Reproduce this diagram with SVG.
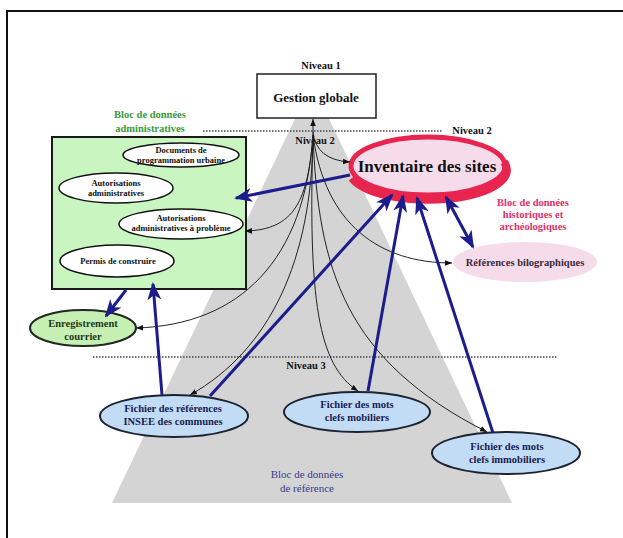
<svg xmlns="http://www.w3.org/2000/svg" width="623" height="538" viewBox="0 0 623 538">
<defs>
<style>
.t{font-family:"Liberation Serif","Times New Roman",serif;font-weight:bold;text-anchor:middle}
.lvl{font-size:10.5px;fill:#111}
.sm{font-size:8.5px;fill:#111}
.fb{font-size:10.5px;fill:#1a2050}
.wl{fill:#fff;stroke:#111;stroke-width:1.5}
.bl{fill:#c2dcf6;stroke:#1e2330;stroke-width:2}
.dot{stroke:#444;stroke-width:1.5;stroke-dasharray:1.5 1.5;fill:none}
.k{fill:none;stroke:#222;stroke-width:1;marker-end:url(#bk)}
.b{fill:none;stroke:#1c1c8c;stroke-width:3;marker-end:url(#bb)}
</style>
<marker id="bk" viewBox="0 0 10 10" refX="10" refY="5" markerWidth="7" markerHeight="7" markerUnits="userSpaceOnUse" orient="auto-start-reverse"><path d="M0,1 L10,5 L0,9 z" fill="#111"/></marker>
<marker id="bb" viewBox="0 0 18 14" refX="16" refY="7" markerWidth="18" markerHeight="14" markerUnits="userSpaceOnUse" orient="auto-start-reverse"><path d="M0,0 L18,7 L0,14 L5,7 z" fill="#1c1c8c"/></marker>
</defs>
<rect width="623" height="538" fill="#fff"/>
<path d="M7,538 L7,11 L623,11" fill="none" stroke="#111" stroke-width="2"/>
<polygon id="pyramid" points="312,83 512,503 112,503" fill="#d4d4d4"/>
<line class="dot" x1="203" y1="131" x2="442" y2="131"/>
<line class="dot" x1="93" y1="357" x2="558" y2="357"/>
<text class="t lvl" x="321" y="69">Niveau 1</text>
<text class="t lvl" x="472" y="134">Niveau 2</text>
<text class="t lvl" x="315" y="144">Niveau 2</text>
<text class="t lvl" x="306" y="369">Niveau 3</text>
<text class="t" x="150" y="118" font-size="10.5" fill="#3a9a3a">Bloc de données</text>
<text class="t" x="150" y="132" font-size="10.5" fill="#3a9a3a">administratives</text>
<text class="t" x="533" y="206" font-size="10.5" fill="#e0306a">Bloc de données</text>
<text class="t" x="533" y="218" font-size="10.5" fill="#e0306a">historiques et</text>
<text class="t" x="533" y="230" font-size="10.5" fill="#e0306a">archéologiques</text>
<text x="307" y="478" font-family="Liberation Serif, Times New Roman, serif" font-size="11" text-anchor="middle" fill="#3a3a8a">Bloc de données</text>
<text x="307" y="492" font-family="Liberation Serif, Times New Roman, serif" font-size="11" text-anchor="middle" fill="#3a3a8a">de référence</text>

<g id="gestion">
<rect x="257" y="74" width="119" height="44" fill="#fff" stroke="#222" stroke-width="1.5"/>
<text class="t" x="316" y="102" font-size="13" fill="#111">Gestion globale</text>
</g>
<g id="bloc-admin">
<rect x="52" y="137" width="194" height="152" fill="#c9f5c1" stroke="#1a1a1a" stroke-width="2"/>
</g>
<g id="documents">
<ellipse class="wl" cx="181" cy="155" rx="58" ry="12"/>
<text class="t sm" x="181" y="153">Documents de</text>
<text class="t sm" x="181" y="163">programmation urbaine</text>
</g>
<g id="autorisations">
<ellipse class="wl" cx="116" cy="188" rx="57" ry="15"/>
<text class="t sm" x="116" y="186">Autorisations</text>
<text class="t sm" x="116" y="196">administratives</text>
</g>
<g id="autorisations-probleme">
<ellipse class="wl" cx="181" cy="224" rx="62" ry="15"/>
<text class="t sm" x="181" y="221">Autorisations</text>
<text class="t sm" x="181" y="231">administratives à problème</text>
</g>
<g id="permis">
<ellipse class="wl" cx="117" cy="261" rx="57" ry="16"/>
<text class="t sm" x="118" y="264">Permis de construire</text>
</g>
<g id="enregistrement">
<ellipse cx="83" cy="328" rx="53" ry="18" fill="#c6efb4" stroke="#1e2a1e" stroke-width="2"/>
<text class="t" x="83" y="327" font-size="10.5" fill="#1e3a1e">Enregistrement</text>
<text class="t" x="83" y="340" font-size="10.5" fill="#1e3a1e">courrier</text>
</g>
<g id="inventaire">
<ellipse cx="428" cy="166" rx="77" ry="29" fill="#f6dbea" stroke="#e8254e" stroke-width="5"/>
<path d="M352,178 A77,29 0 0 0 504,162" fill="none" stroke="#e8254e" stroke-width="8"/>
<text class="t" x="427" y="172" font-size="17" fill="#111">Inventaire des sites</text>
</g>
<g id="references-biblio">
<ellipse cx="525" cy="262" rx="72" ry="20" fill="#f6dcea"/>
<text class="t" x="525" y="266" font-size="10.5" fill="#3a2a40">Références bilographiques</text>
</g>
<g id="insee">
<ellipse class="bl" cx="174" cy="416" rx="74" ry="21"/>
<text class="t fb" x="173" y="412">Fichier des références</text>
<text class="t fb" x="173" y="425">INSEE des communes</text>
</g>
<g id="mobiliers">
<ellipse class="bl" cx="357" cy="412" rx="73" ry="20"/>
<text class="t fb" x="357" y="408">Fichier des mots</text>
<text class="t fb" x="357" y="421">clefs mobiliers</text>
</g>
<g id="immobiliers">
<ellipse class="bl" cx="506" cy="453" rx="74" ry="21"/>
<text class="t fb" x="507" y="450">Fichier des mots</text>
<text class="t fb" x="507" y="463">clefs immobiliers</text>
</g>

<g id="connectors">
<path class="k" d="M313,150 L313,119"/>
<path class="k" d="M313,132 Q316,160 350,162"/>
<path class="k" d="M313,135 C308,200 295,230 245,231"/>
<path class="k" d="M313,135 C305,260 240,325 136,328"/>
<path class="k" d="M313,135 C312,260 270,350 190,395"/>
<path class="k" d="M313,135 C308,300 318,365 358,391"/>
<path class="k" d="M313,135 C318,270 345,360 487,432"/>
<path class="k" d="M313,135 C325,225 380,263 452,263"/>
<path class="b" d="M350,175 L236,198"/>
<path class="b" d="M126,290 L106,316"/>
<path class="b" d="M162,395 L153,284"/>
<path class="b" d="M210,396 L392,195"/>
<path class="b" d="M368,391 L403,196"/>
<path class="b" d="M493,433 L417,198"/>
<path class="b" d="M446,197 L473,247" marker-start="url(#bb)"/>
</g>
</svg>
